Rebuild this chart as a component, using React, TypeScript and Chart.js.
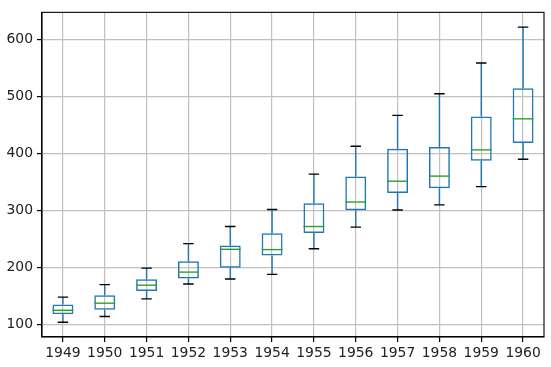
import React, { useEffect, useRef } from "react";
import { Chart, registerables } from "chart.js";

Chart.register(...registerables);

const years = ["1949", "1950", "1951", "1952", "1953", "1954", "1955", "1956", "1957", "1958", "1959", "1960"];
const p1949 = [112, 118, 132, 129, 121, 135, 148, 148, 136, 119, 104, 118];
const p1950 = [115, 126, 141, 135, 125, 149, 170, 170, 158, 133, 114, 140];
const p1951 = [145, 150, 178, 163, 172, 178, 199, 199, 184, 162, 146, 166];
const p1952 = [171, 180, 193, 181, 183, 218, 230, 242, 209, 191, 172, 194];
const p1953 = [196, 196, 236, 235, 229, 243, 264, 272, 237, 211, 180, 201];
const p1954 = [204, 188, 235, 227, 234, 264, 302, 293, 259, 229, 203, 229];
const p1955 = [242, 233, 267, 269, 270, 315, 364, 347, 312, 274, 237, 278];
const p1956 = [284, 277, 317, 313, 318, 374, 413, 405, 355, 306, 271, 306];
const p1957 = [315, 301, 356, 348, 355, 422, 465, 467, 404, 347, 305, 336];
const p1958 = [340, 318, 362, 348, 363, 435, 491, 505, 404, 359, 310, 337];
const p1959 = [360, 342, 406, 396, 420, 472, 548, 559, 463, 407, 362, 405];
const p1960 = [417, 391, 419, 461, 472, 535, 622, 606, 508, 461, 390, 432];
const passengers = [p1949, p1950, p1951, p1952, p1953, p1954, p1955, p1956, p1957, p1958, p1959, p1960];
const yTicks = [100, 200, 300, 400, 500, 600];

function quantile(sorted: number[], q: number) {
  const pos = (sorted.length - 1) * q;
  const lo = Math.floor(pos);
  const hi = Math.ceil(pos);
  return sorted[lo] + (sorted[hi] - sorted[lo]) * (pos - lo);
}

function stats(d: number[]) {
  const s = [...d].sort((a, b) => a - b);
  const q1 = quantile(s, 0.25);
  const med = quantile(s, 0.5);
  const q3 = quantile(s, 0.75);
  const iqr = q3 - q1;
  const lo = Math.min(...s.filter((v) => v >= q1 - 1.5 * iqr));
  const hi = Math.max(...s.filter((v) => v <= q3 + 1.5 * iqr));
  return { q1, med, q3, lo, hi };
}

const boxStats = passengers.map(stats);
const allLo = Math.min(...boxStats.map((b) => b.lo));
const allHi = Math.max(...boxStats.map((b) => b.hi));
const margin = (allHi - allLo) * 0.05;

const BLUE = "#1f77b4";
const GREEN = "#2ca02c";

const boxPlugin = {
  id: "boxParts",
  afterDatasetsDraw(chart: any) {
    const ctx = chart.ctx;
    const xs = chart.scales.x;
    const ys = chart.scales.y;
    const meta = chart.getDatasetMeta(0);
    ctx.save();
    boxStats.forEach((b, i) => {
      const x = xs.getPixelForValue(i);
      const el = meta.data[i];
      const w = el ? el.width : 20;
      const yq1 = ys.getPixelForValue(b.q1);
      const yq3 = ys.getPixelForValue(b.q3);
      const ylo = ys.getPixelForValue(b.lo);
      const yhi = ys.getPixelForValue(b.hi);
      const ym = ys.getPixelForValue(b.med);
      ctx.lineWidth = 1.4;
      ctx.strokeStyle = BLUE;
      ctx.beginPath();
      ctx.moveTo(x, yq1);
      ctx.lineTo(x, ylo);
      ctx.moveTo(x, yq3);
      ctx.lineTo(x, yhi);
      ctx.stroke();
      ctx.strokeStyle = "#000";
      ctx.beginPath();
      ctx.moveTo(x - w / 4, ylo);
      ctx.lineTo(x + w / 4, ylo);
      ctx.moveTo(x - w / 4, yhi);
      ctx.lineTo(x + w / 4, yhi);
      ctx.stroke();
      ctx.strokeStyle = GREEN;
      ctx.beginPath();
      ctx.moveTo(x - w / 2, ym);
      ctx.lineTo(x + w / 2, ym);
      ctx.stroke();
    });
    ctx.restore();
  },
  afterDraw(chart: any) {
    const { left, right, top, bottom } = chart.chartArea;
    const ctx = chart.ctx;
    ctx.save();
    ctx.strokeStyle = "#000";
    ctx.lineWidth = 1.1;
    ctx.strokeRect(left, top, right - left, bottom - top);
    ctx.restore();
  },
};

export default function App() {
  const ref = useRef<HTMLCanvasElement>(null);
  useEffect(() => {
    if (!ref.current) return;
    const chart = new Chart(ref.current, {
      type: "bar",
      data: {
        labels: years,
        datasets: [
          {
            data: boxStats.map((b) => [b.q1, b.q3]) as any,
            backgroundColor: "rgba(0,0,0,0)",
            borderColor: BLUE,
            borderWidth: 1.5,
            borderSkipped: false,
            barPercentage: 0.5,
            categoryPercentage: 1.0,
          },
        ],
      },
      options: {
        animation: false,
        responsive: false,
        maintainAspectRatio: false,
        layout: { padding: { top: 8, right: 7, left: 0, bottom: 0 } },
        plugins: { legend: { display: false }, tooltip: { enabled: false } },
        scales: {
          x: {
            offset: true,
            grid: { offset: false, color: "#c0c0c0", lineWidth: 1.2, tickColor: "#000", tickLength: 5 },
            border: { color: "#000", width: 1.1 },
            ticks: { color: "#222", font: { family: "DejaVu Sans", size: 13.9 }, padding: 3, maxRotation: 0, autoSkip: false },
            afterFit: (axis: any) => {
              axis.height = 30;
            },
          },
          y: {
            min: allLo - margin,
            max: allHi + margin,
            grid: { color: "#c0c0c0", lineWidth: 1.2, tickColor: "#000", tickLength: 5 },
            border: { color: "#000", width: 1.1 },
            ticks: { color: "#222", font: { family: "DejaVu Sans", size: 13.9 }, padding: 4 },
            afterBuildTicks: (axis: any) => {
              axis.ticks = yTicks.map((v) => ({ value: v }));
            },
            afterFit: (axis: any) => {
              axis.width = 42;
            },
          },
        },
      },
      plugins: [boxPlugin],
    });
    return () => chart.destroy();
  }, []);
  return (
    <div style={{ position: "fixed", left: 0, top: 0, width: 551, height: 367, background: "#fff" }}>
      <canvas ref={ref} width={551} height={367} style={{ width: 551, height: 367 }} />
    </div>
  );
}
